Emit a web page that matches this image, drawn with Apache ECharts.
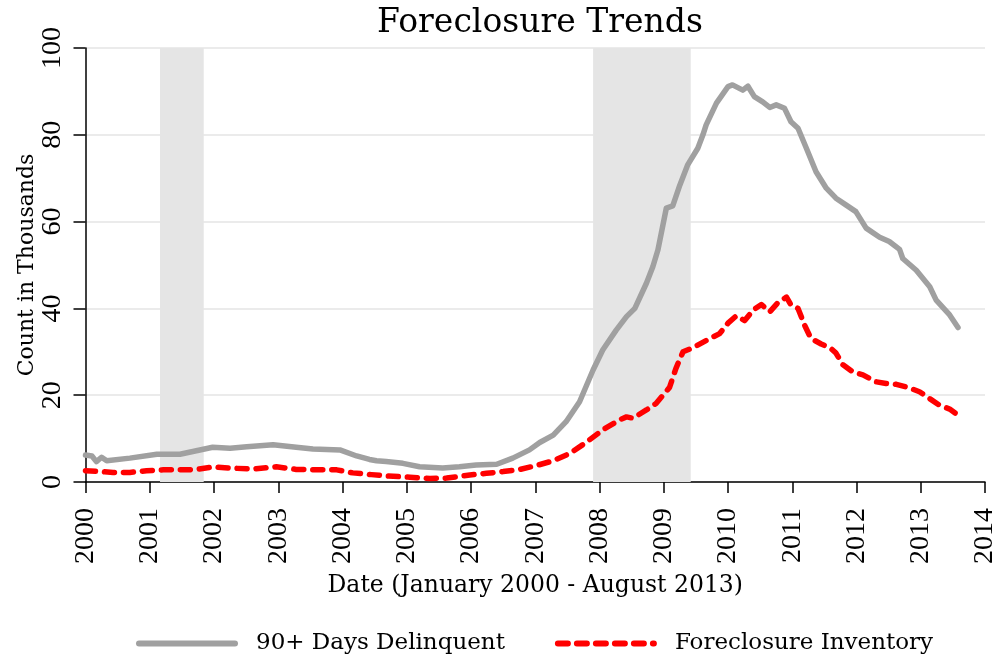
<!DOCTYPE html>
<html>
<head>
<meta charset="utf-8">
<script src="https://cdn.jsdelivr.net/npm/echarts@6/dist/echarts.min.js"></script>
<style>html,body{margin:0;padding:0;background:#fff}#chart{width:995px;height:656px}</style>
</head>
<body>
<div id="chart"></div>
<script>
// Decimal-year positions and values (thousands)
const delinquentYears = [2000.00,2000.10,2000.17,2000.25,2000.33,2000.69,2001.11,2001.47,2001.98,2002.25,2002.51,2002.92,2003.28,2003.54,2003.96,2004.22,2004.42,2004.53,2004.68,2004.94,2005.20,2005.56,2005.82,2006.08,2006.40,2006.65,2006.91,2007.07,2007.28,2007.48,2007.69,2007.90,2008.05,2008.26,2008.42,2008.55,2008.73,2008.83,2008.91,2009.04,2009.14,2009.25,2009.37,2009.53,2009.61,2009.66,2009.82,2010.00,2010.07,2010.23,2010.31,2010.41,2010.54,2010.65,2010.75,2010.88,2010.98,2011.09,2011.22,2011.37,2011.53,2011.68,2011.84,2011.99,2012.15,2012.36,2012.51,2012.67,2012.72,2012.93,2013.14,2013.24,2013.45,2013.58];
const delinquentValues = [6.2,6.0,4.7,5.7,4.9,5.5,6.4,6.4,8.0,7.8,8.1,8.6,8.0,7.6,7.4,6.0,5.2,4.9,4.7,4.3,3.5,3.2,3.5,3.9,4.1,5.5,7.4,9.1,10.8,13.9,18.5,25.8,30.4,35.0,38.1,40.0,45.8,49.6,53.5,63.1,63.6,68.4,73.0,76.9,80.0,82.3,87.3,91.1,91.5,90.3,91.2,88.8,87.6,86.3,86.9,86.1,83.0,81.5,76.9,71.5,67.7,65.4,63.8,62.3,58.5,56.4,55.4,53.6,51.5,48.8,45.0,41.9,38.5,35.6];

const inventoryYears = [2000.00,2000.23,2000.43,2000.69,2000.95,2001.21,2001.57,2001.73,2001.99,2002.25,2002.61,2002.97,2003.28,2003.65,2003.91,2004.16,2004.45,2004.68,2005.05,2005.36,2005.62,2005.98,2006.24,2006.50,2006.76,2007.02,2007.28,2007.54,2007.79,2008.05,2008.31,2008.42,2008.52,2008.73,2008.88,2009.09,2009.19,2009.30,2009.45,2009.66,2009.87,2010.00,2010.13,2010.26,2010.39,2010.52,2010.65,2010.77,2010.91,2010.98,2011.09,2011.19,2011.29,2011.45,2011.60,2011.68,2011.79,2011.94,2012.10,2012.30,2012.46,2012.62,2012.82,2012.98,2013.13,2013.29,2013.45,2013.58];
const inventoryValues = [2.6,2.4,2.2,2.2,2.6,2.8,2.8,2.9,3.5,3.2,3.0,3.5,2.9,2.8,2.8,2.1,1.7,1.4,1.1,0.8,0.9,1.6,2.0,2.4,2.9,3.8,4.9,6.6,9.1,12.0,14.3,15.0,14.7,16.6,18.1,21.8,26.2,30.0,30.9,32.6,34.2,36.6,38.3,37.2,39.6,40.9,39.2,41.2,42.6,40.8,40.0,36.2,33.1,31.8,30.8,29.7,27.0,25.4,24.7,23.1,22.7,22.5,21.7,20.8,19.3,17.7,16.8,15.4];

// Recession bands (start, end) in decimal years
const recessions = [[2001.16, 2001.84], [2007.90, 2009.42]];

const seriesNames = ['90+ Days Delinquent', 'Foreclosure Inventory'];
const titleText = 'Foreclosure Trends';
const xTitle = 'Date (January 2000 - August 2013)';
const yTitle = 'Count in Thousands';

const zip = (xs, ys) => xs.map((x, i) => [x, ys[i]]);
const serif = 'DejaVu Serif';
const tickFont = 'Liberation Serif';

const chart = echarts.init(document.getElementById('chart'));
chart.setOption({
  animation: false,
  backgroundColor: '#ffffff',
  title: {
    text: titleText, left: 535, top: 2, textAlign: 'center',
    textStyle: { fontFamily: serif, fontSize: 33, fontWeight: 'normal', color: '#000' }
  },
  grid: { left: 85.5, right: 10, top: 48, bottom: 174, outerBoundsMode: 'none', containLabel: false },
  legend: {
    data: seriesNames, top: 627, left: 131,
    itemWidth: 96, itemHeight: 14, itemGap: 50,
    itemStyle: { opacity: 0 },
    lineStyle: { width: 6 },
    textStyle: { fontFamily: serif, fontSize: 23, color: '#000', padding: [0, 0, 0, 16] }
  },
  xAxis: {
    type: 'value', min: 2000, max: 2014, interval: 1,
    name: xTitle, nameLocation: 'middle', nameGap: 88, nameMoveOverlap: false,
    nameTextStyle: { fontFamily: serif, fontSize: 23.5, color: '#000', padding: [4, 0, 0, 0] },
    axisLine: { show: true, lineStyle: { color: '#000', width: 1.5 } },
    axisTick: { show: true, length: 11, lineStyle: { color: '#000', width: 1.5 } },
    axisLabel: { rotate: 90, margin: 26, fontFamily: tickFont, fontSize: 28, color: '#000',
      formatter: v => String(v) },
    splitLine: { show: false }
  },
  yAxis: {
    type: 'value', min: 0, max: 100, interval: 20,
    name: yTitle, nameLocation: 'middle', nameGap: 47, nameMoveOverlap: false,
    nameTextStyle: { fontFamily: serif, fontSize: 22, color: '#000' },
    axisLine: { show: true, lineStyle: { color: '#000', width: 1.5 } },
    axisTick: { show: true, length: 12, lineStyle: { color: '#000', width: 1.5 } },
    axisLabel: { rotate: 90, margin: 19, fontFamily: tickFont, fontSize: 28, color: '#000' },
    splitLine: { show: true, lineStyle: { color: '#ebebeb', width: 2 } }
  },
  series: [
    {
      name: seriesNames[0], type: 'line', data: zip(delinquentYears, delinquentValues),
      showSymbol: false, symbol: 'none', smooth: false,
      lineStyle: { color: '#a0a0a0', width: 5.5, cap: 'round', join: 'round' },
      itemStyle: { color: '#a0a0a0' },
      z: 3,
      markArea: {
        silent: true,
        itemStyle: { color: '#e5e5e5' },
        data: recessions.map(r => [{ xAxis: r[0] }, { xAxis: r[1] }])
      }
    },
    {
      name: seriesNames[1], type: 'line', data: zip(inventoryYears, inventoryValues),
      showSymbol: false, symbol: 'none', smooth: false,
      lineStyle: { color: '#ff0000', width: 5.5, type: [10, 9], cap: 'round', join: 'round' },
      itemStyle: { color: '#ff0000' },
      z: 4
    }
  ]
});
</script>
</body>
</html>
